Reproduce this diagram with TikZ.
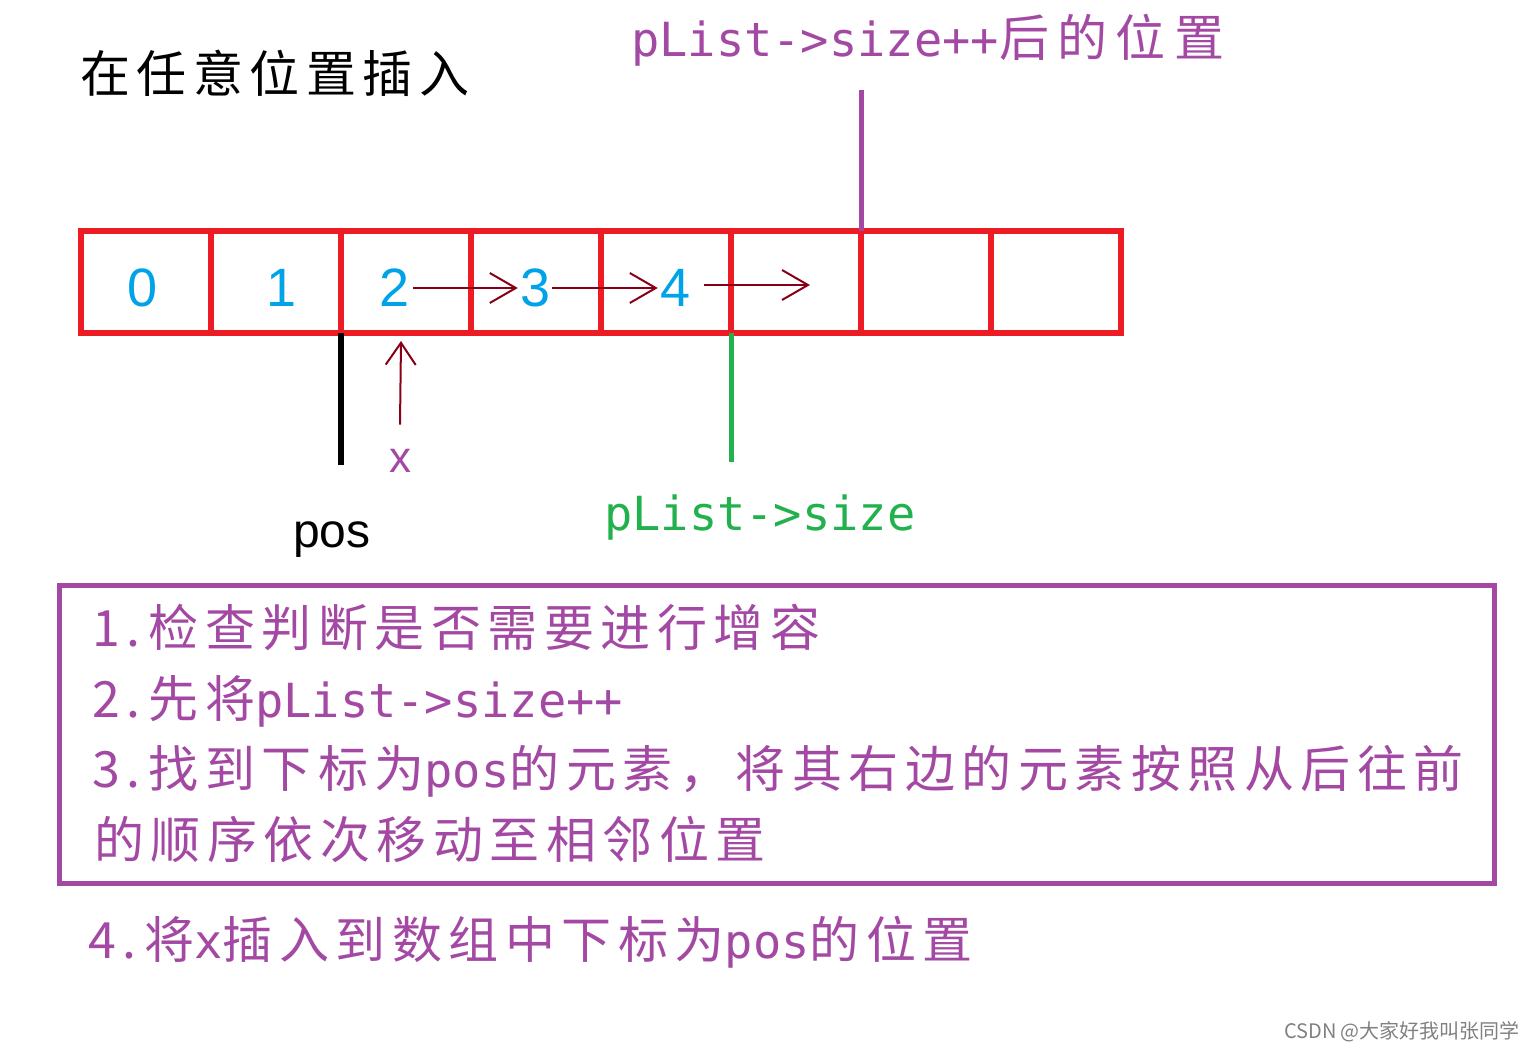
\documentclass[tikz,border=0pt]{standalone}
\usepackage{fontspec}
\setmainfont{Liberation Sans}
\newfontfamily\cjk{Noto Sans CJK SC}[LetterSpace=13]
\newfontfamily\cjkn{Noto Sans CJK SC}
\newfontfamily\mono{DejaVu Sans Mono}[Scale=0.94]
\usetikzlibrary{arrows.meta}
\definecolor{cellred}{RGB}{237,28,36}
\definecolor{numblue}{RGB}{0,162,232}
\definecolor{arrred}{RGB}{136,0,21}
\definecolor{lilac}{RGB}{163,73,164}
\definecolor{sizegreen}{RGB}{34,177,76}
\tikzset{
  cell/.style={draw=cellred,line width=6pt,minimum width=130pt,minimum height=102pt,inner sep=0pt,outer sep=0pt},
  num/.style={text=numblue,font=\fontsize{54}{54}\selectfont,inner sep=0pt},
  arr/.style={arrred,line width=2pt,-{Straight Barb[length=26pt,width=30pt,line width=2pt]}},
  note/.style={anchor=base west,inner sep=0pt,text=lilac,font=\fontsize{50}{60}\selectfont\cjk},
}
\begin{document}
\begin{tikzpicture}[x=1pt,y=-1pt]
\useasboundingbox (0,0) rectangle (1532,1051);
\node[anchor=base west,inner sep=0pt,font=\fontsize{50}{60}\selectfont\cjk] (title) at (80,93) {在任意位置插入};
\node[note,font=\fontsize{50}{60}\selectfont\cjkn] (after) at (631,57) {{\mono pList->size++}后\,的\,位\,置};
% the array
\foreach \i in {0,...,7}
  \node[cell] (c\i) at (146+130*\i,282) {};
\node[num] (n0) at (143,288) {0};
\node[num] (n1) at (282,288) {1};
\node[num] (n2) at (395,288) {2};
\node[num] (n3) at (536,288) {3};
\node[num] (n4) at (676,288) {4};
\coordinate (nxt) at (810,285);
\draw[arr] ([xshift=3pt]n2.east) -- ([xshift=-3pt]n3.west);
\draw[arr] ([xshift=1pt]n3.east) -- ([xshift=-3pt]n4.west);
\draw[arr] ([xshift=13pt,yshift=3pt]n4.east) -- (nxt);
% pointers
\draw[lilac,line width=5pt] (c6.north west) -- ++(0,-141);
\draw[black,line width=6pt] (c2.south west) -- ++(0,132);
\draw[sizegreen,line width=5pt] (c5.south west) -- ++(0,129);
\node[anchor=base,inner sep=0pt,font=\fontsize{48}{48}\selectfont] (pos) at (332,547) {pos};
\node[anchor=base,inner sep=0pt,text=lilac,font=\fontsize{44}{44}\selectfont] (xl) at (400,472) {x};
\draw[arr,-{Straight Barb[length=22pt,width=30pt,line width=2pt]}] ([yshift=24pt]xl.north) -- ([xshift=-5pt,yshift=-8pt]c2.south);
\node[anchor=base west,inner sep=0pt,text=sizegreen,font=\fontsize{50}{50}\selectfont\mono] (sz) at (604,530) {pList->size};
% steps
\draw[lilac,line width=5pt] (59,585) rectangle (1494,883);
\node[note] (s1) at (92,646) {1.\,检查判断是否需要进行增容};
\node[note] (s2) at (92,717) {2.\,先将{\mono pList->size++}};
\node[note] (s3) at (92,787) {3.\,找到下标为{\mono pos}的元素，将其右边的元素按照从后往前};
\node[note] (s3b) at (94,858) {的顺序依次移动至相邻位置};
\node[note] (s4) at (88,958) {4.\,将{\mono x}插入到数组中下标为{\mono pos}的位置};
\node[anchor=base,inner sep=0pt,text=gray,font=\fontsize{20}{20}\selectfont\cjkn] (wm) at (1402,1038) {CSDN @大家好我叫张同学};
\end{tikzpicture}
\end{document}
